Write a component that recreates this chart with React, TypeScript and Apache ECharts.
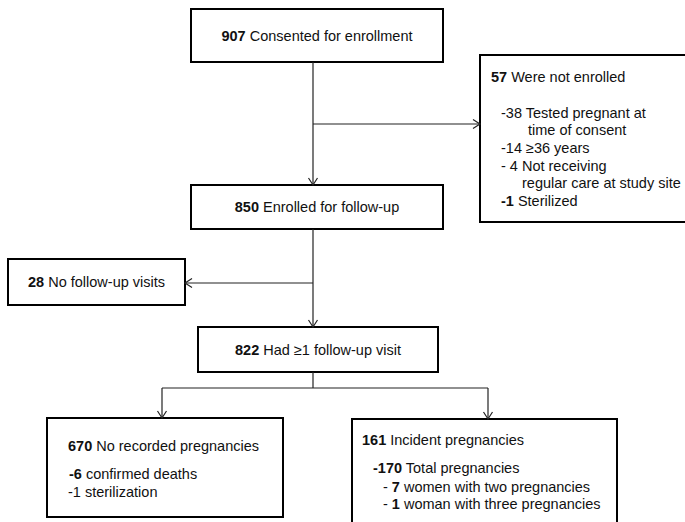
import React, { useEffect, useRef } from "react";
import * as echarts from "echarts";

// Flowchart counts (data)
const consented = 907;
const notEnrolled = 57;
const notEnrolledReasons = [38, 14, 4, 1];
const enrolled = 850;
const noFollowUp = 28;
const hadFollowUp = 822;
const noPregnancy = 670;
const noPregnancyReasons = [6, 1];
const incident = 161;
const totalPreg = 170;
const multiPreg = [7, 1];

const FONT = '"Liberation Sans", Arial, Helvetica, sans-serif';
const FS = 14.5;
const TXT = "#111";

function rect(x: number, y: number, w: number, h: number) {
  return {
    type: "rect",
    shape: { x, y, width: w, height: h },
    style: { fill: "#fff", stroke: "#000", lineWidth: 2 },
    z: 1,
  };
}
function line(x1: number, y1: number, x2: number, y2: number) {
  return {
    type: "line",
    shape: { x1, y1, x2, y2 },
    style: { stroke: "#222", lineWidth: 1.2 },
    z: 2,
  };
}
function arrow(x: number, y: number, dir: "down" | "left" | "right") {
  let pts: number[][];
  if (dir === "down") pts = [[x - 4.5, y - 7], [x, y], [x + 4.5, y - 7]];
  else if (dir === "right") pts = [[x - 7, y - 4.5], [x, y], [x - 7, y + 4.5]];
  else pts = [[x + 7, y - 4.5], [x, y], [x + 7, y + 4.5]];
  return {
    type: "polyline",
    shape: { points: pts },
    style: { stroke: "#222", lineWidth: 1.2, fill: "none" },
    z: 3,
  };
}
function text(x: number, y: number, t: string, align: "left" | "center" = "left") {
  return {
    type: "text",
    x,
    y,
    z: 4,
    style: {
      text: t,
      fontSize: FS,
      fontFamily: FONT,
      fill: TXT,
      textAlign: align,
      textVerticalAlign: "middle",
      align: align,
      verticalAlign: "middle",
      rich: {
        b: { fontWeight: "bold", fontSize: FS, fontFamily: FONT, fill: TXT },
        n: { fontSize: FS, fontFamily: FONT, fill: TXT },
      },
    },
  };
}

export default function App() {
  const ref = useRef<HTMLDivElement>(null);
  useEffect(() => {
    if (!ref.current) return;
    const chart = echarts.init(ref.current, undefined, { renderer: "svg" });
    const els: any[] = [
      // connectors
      line(313, 62, 313, 185),
      arrow(313, 185, "down"),
      line(313, 124, 480, 124),
      arrow(480, 124, "right"),
      line(313, 229, 313, 327),
      arrow(313, 327, "down"),
      line(313, 283, 185, 283),
      arrow(185, 283, "left"),
      line(313, 372, 313, 388),
      line(162, 388, 488, 388),
      line(162, 388, 162, 418),
      line(488, 388, 488, 419),
      arrow(162, 418, "down"),
      arrow(488, 419, "down"),
      // boxes
      rect(191, 9, 252, 53),
      rect(480, 55, 210, 167),
      rect(191, 185, 252, 44),
      rect(8, 259, 177, 46),
      rect(198, 327, 240, 45),
      rect(47, 418, 236, 99),
      rect(352, 419, 265, 110),
      // texts
      text(317, 36, `{b|${consented}} Consented for enrollment`, "center"),
      text(491, 77, `{b|${notEnrolled}} Were not enrolled`),
      text(501, 113, `-${notEnrolledReasons[0]} Tested pregnant at`),
      text(528, 130, "time of consent"),
      text(501, 148, `-${notEnrolledReasons[1]} \u226536 years`),
      text(501, 166, `- ${notEnrolledReasons[2]} Not receiving`),
      text(522, 183, "regular care at study site"),
      text(501, 201, `{b|-${notEnrolledReasons[3]}} Sterilized`),
      text(317, 207, `{b|${enrolled}} Enrolled for follow-up`, "center"),
      text(96.5, 282, `{b|${noFollowUp}} No follow-up visits`, "center"),
      text(318, 350, `{b|${hadFollowUp}} Had \u22651 follow-up visit`, "center"),
      text(68, 446, `{b|${noPregnancy}} No recorded pregnancies`),
      text(69, 474, `{b|-${noPregnancyReasons[0]}} confirmed deaths`),
      text(68, 492, `-${noPregnancyReasons[1]} sterilization`),
      text(362, 440, `{b|${incident}} Incident pregnancies`),
      text(373, 468, `{b|-${totalPreg}} Total pregnancies`),
      text(383, 487, `- {b|${multiPreg[0]}} women with two pregnancies`),
      text(383, 504, `- {b|${multiPreg[1]}} woman with three pregnancies`),
    ];
    chart.setOption({
      animation: false,
      backgroundColor: "#fff",
      graphic: { elements: els },
    });
    return () => chart.dispose();
  }, []);
  return (
    <div
      ref={ref}
      style={{ position: "absolute", left: 0, top: 0, width: 685, height: 522 }}
    />
  );
}
